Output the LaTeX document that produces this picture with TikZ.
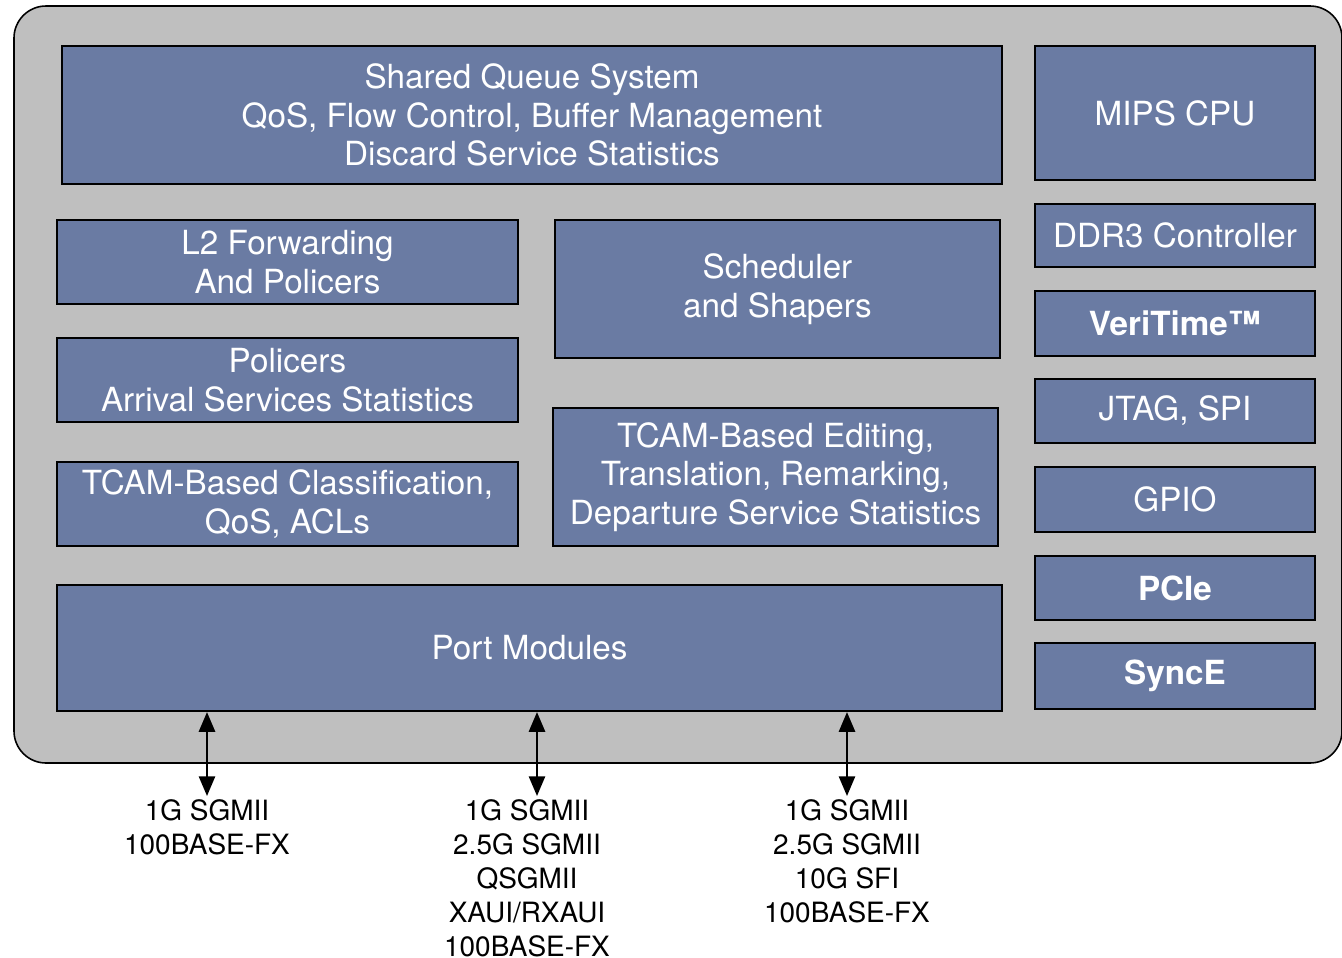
\documentclass[tikz,border=0pt]{standalone}
\usepackage{fontspec}
\setmainfont{TeX Gyre Heros}
\usetikzlibrary{calc,arrows.meta}
\definecolor{chipGrey}{RGB}{191,191,191}
\definecolor{blockBlue}{RGB}{106,123,163}
\tikzset{
  block/.style={draw=black,fill=blockBlue,line width=0.6pt,text=white,align=center,inner sep=0pt,
    font=\fontsize{9.45}{11}\selectfont},
  sideblock/.style={block,minimum width=2.80cm},
  portlabel/.style={anchor=north,align=center,inner sep=0pt,font=\fontsize{7.95}{9.65}\selectfont},
  portlink/.style={line width=0.6pt,{Triangle[length=5.6pt,width=4.6pt]}-{Triangle[length=5.6pt,width=4.6pt]}}
}

\begin{document}
\begin{tikzpicture}[x=0.01cm,y=-0.01cm]
\useasboundingbox (0,0) rectangle (1342,957);
\draw[fill=chipGrey,line width=0.45pt,rounded corners=0.32cm] (14,6) rectangle (1342,763);
% main pipeline
\node[block,minimum width=9.40cm,minimum height=1.38cm] (queue) at (532,115) {Shared Queue System\\QoS, Flow Control, Buffer Management\\Discard Service Statistics};
\node[block,minimum width=4.61cm,minimum height=0.84cm] (fwd) at (287.5,262) {L2 Forwarding\\And Policers};
\node[block,minimum width=4.61cm,minimum height=0.84cm] (police) at (287.5,380) {Policers\\Arrival Services Statistics};
\node[block,minimum width=4.61cm,minimum height=0.84cm] (classify) at (287.5,504) {TCAM-Based Classification,\\QoS, ACLs};
\node[block,minimum width=4.45cm,minimum height=1.38cm] (sched) at (777.5,289) {Scheduler\\and Shapers};
\node[block,minimum width=4.45cm,minimum height=1.38cm] (edit) at (775.5,477) {TCAM-Based Editing,\\Translation, Remarking,\\Departure Service Statistics};
\node[block,minimum width=9.45cm,minimum height=1.26cm] (ports) at (529.5,648) {Port Modules};
% side column
\node[sideblock,minimum height=1.34cm] (cpu) at (1175,113) {MIPS CPU};
\node[sideblock,minimum height=0.63cm] (ddr) at (1175,235.5) {DDR3 Controller};
\node[sideblock,minimum height=0.65cm] (veri) at (1175,323.5) {\bfseries VeriTime™};
\node[sideblock,minimum height=0.64cm] (jtag) at (1175,411) {JTAG, SPI};
\node[sideblock,minimum height=0.65cm] (gpio) at (1175,499.5) {GPIO};
\node[sideblock,minimum height=0.64cm] (pcie) at (1175,588) {\bfseries PCIe};
\node[sideblock,minimum height=0.66cm] (synce) at (1175,676) {\bfseries SyncE};
% interfaces
\node[portlabel] (ifa) at (207,799) {1G SGMII\\100BASE-FX};
\node[portlabel] (ifb) at (527,799) {1G SGMII\\2.5G SGMII\\QSGMII\\XAUI/RXAUI\\100BASE-FX};
\node[portlabel] (ifc) at (847,799) {1G SGMII\\2.5G SGMII\\10G SFI\\100BASE-FX};
\coordinate (endb) at (537,796);
\draw[portlink] (ports.south -| ifa) -- ($(ifa.north)+(0,-3)$);
\draw[portlink] (ports.south -| endb) -- (endb);
\draw[portlink] (ports.south -| ifc) -- ($(ifc.north)+(0,-3)$);
\end{tikzpicture}
\end{document}
